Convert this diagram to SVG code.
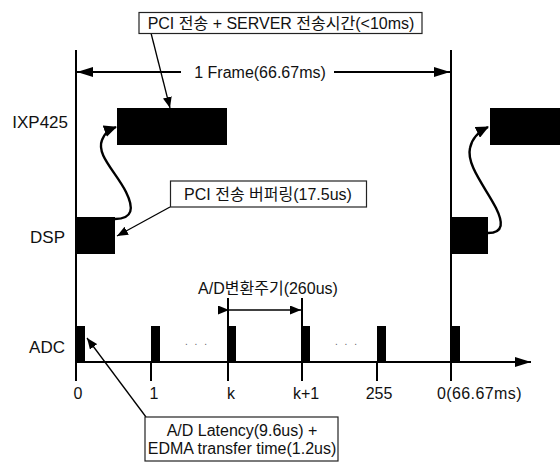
<svg xmlns="http://www.w3.org/2000/svg" width="560" height="464" viewBox="0 0 560 464">
<style>
text{font-family:"Liberation Sans","Noto Sans CJK KR",Arial,sans-serif;font-size:16px;fill:#111}
.lab{font-size:17px}
.box{fill:#fff;stroke:#222;stroke-width:1.2}
.blk{fill:#000}
.ln{stroke:#000;stroke-width:2;fill:none}
.cv{stroke:#000;stroke-width:2.4;fill:none}
.thin{stroke:#000;stroke-width:1.3;fill:none}
.c{text-anchor:middle}
.e{text-anchor:end}
</style>
<defs>
<marker id="ah" viewBox="0 0 11 9" refX="11" refY="4.5" markerWidth="11" markerHeight="9" markerUnits="userSpaceOnUse" orient="auto"><path d="M0,0 L11,4.5 L0,9 z" fill="#000"/></marker>
<marker id="big" viewBox="0 0 16 10" refX="16" refY="5" markerWidth="16" markerHeight="10" markerUnits="userSpaceOnUse" orient="auto"><path d="M0,0 L16,5 L0,10 z" fill="#000"/></marker>
<marker id="cur" viewBox="0 0 13 12" refX="12" refY="6" markerWidth="13" markerHeight="12" markerUnits="userSpaceOnUse" orient="auto"><path d="M0,0 L13,6 L0,12 z" fill="#000"/></marker>
</defs>
<g id="frame-lines">
<line class="ln" x1="76" y1="50" x2="76" y2="381"/>
<line class="ln" x1="451" y1="50" x2="451" y2="381"/>
</g>
<g id="labels">
<text class="e lab" x="68" y="128">IXP425</text>
<text class="e lab" x="65" y="243">DSP</text>
<text class="e lab" x="65" y="353">ADC</text>
</g>
<g id="ixp-blocks">
<rect class="blk" x="117" y="108" width="110" height="37"/>
<rect class="blk" x="490" y="108" width="70" height="37"/>
</g>
<g id="dsp-blocks">
<rect class="blk" x="76" y="217" width="39" height="37"/>
<rect class="blk" x="451" y="217" width="37" height="37"/>
</g>
<g id="adc-pulses">
<rect class="blk" x="76" y="326" width="9" height="36"/>
<rect class="blk" x="151" y="326" width="9" height="36"/>
<rect class="blk" x="228" y="326" width="8" height="36"/>
<rect class="blk" x="302" y="326" width="8" height="36"/>
<rect class="blk" x="377" y="326" width="9" height="36"/>
<rect class="blk" x="451" y="326" width="9" height="36"/>
</g>
<g id="axis">
<line class="ln" x1="76" y1="362" x2="531" y2="362" marker-end="url(#big)"/>
<line class="ln" x1="151" y1="362" x2="151" y2="381"/>
<line class="ln" x1="228" y1="298" x2="228" y2="381"/>
<line class="ln" x1="302" y1="298" x2="302" y2="381"/>
<line class="ln" x1="377" y1="362" x2="377" y2="381"/>
<text class="c" x="78" y="399">0</text>
<text class="c" x="154" y="399">1</text>
<text class="c" x="231" y="399">k</text>
<text class="c" x="306" y="399">k+1</text>
<text class="c" x="379" y="399">255</text>
<text x="437" y="399" style="letter-spacing:0.4px">0(66.67ms)</text>
<text class="c" x="197" y="345" style="font-size:10px;fill:#666;letter-spacing:2px">. . .</text>
<text class="c" x="347" y="345" style="font-size:10px;fill:#666;letter-spacing:2px">. . .</text>
</g>
<g id="connectors">
<line class="ln" x1="181" y1="72" x2="77" y2="72" marker-end="url(#big)"/>
<line class="ln" x1="334" y1="72" x2="450" y2="72" marker-end="url(#big)"/>
<line class="thin" x1="229" y1="310" x2="301" y2="310" marker-start="url(#ah)" marker-end="url(#ah)" style="stroke-width:1.6"/>
<path class="cv" d="M115,219 C133,219 134,208 126,192 C116,172 96,155 102,140 C104,134 108,130 116,127" marker-end="url(#cur)"/>
<path class="cv" d="M488,233 C504,233 503,222 496,208 C486,188 466,165 470,148 C472,138 478,132 488,127" marker-end="url(#cur)"/>
<line class="thin" x1="151" y1="33" x2="170" y2="108" marker-end="url(#ah)"/>
<line class="thin" x1="170" y1="207" x2="117" y2="236" marker-end="url(#ah)"/>
<line class="thin" x1="146" y1="417" x2="87" y2="338" marker-end="url(#ah)"/>
</g>
<text class="c" x="260" y="78">1 Frame(66.67ms)</text>
<text class="c" x="268" y="294">A/D변환주기(260us)</text>
<g id="note-server">
<rect class="box" x="139" y="12.5" width="283" height="21"/>
<text class="c" x="281" y="29">PCI 전송 + SERVER 전송시간(&lt;10ms)</text>
</g>
<g id="note-dsp">
<rect class="box" x="170.5" y="181" width="196" height="26"/>
<text class="c" x="268" y="199.5">PCI 전송 버퍼링(17.5us)</text>
</g>
<g id="note-adc">
<rect class="box" x="145" y="417" width="193" height="44"/>
<text class="c" x="242" y="436">A/D Latency(9.6us) +</text>
<text class="c" x="242" y="454">EDMA transfer time(1.2us)</text>
</g>
</svg>
